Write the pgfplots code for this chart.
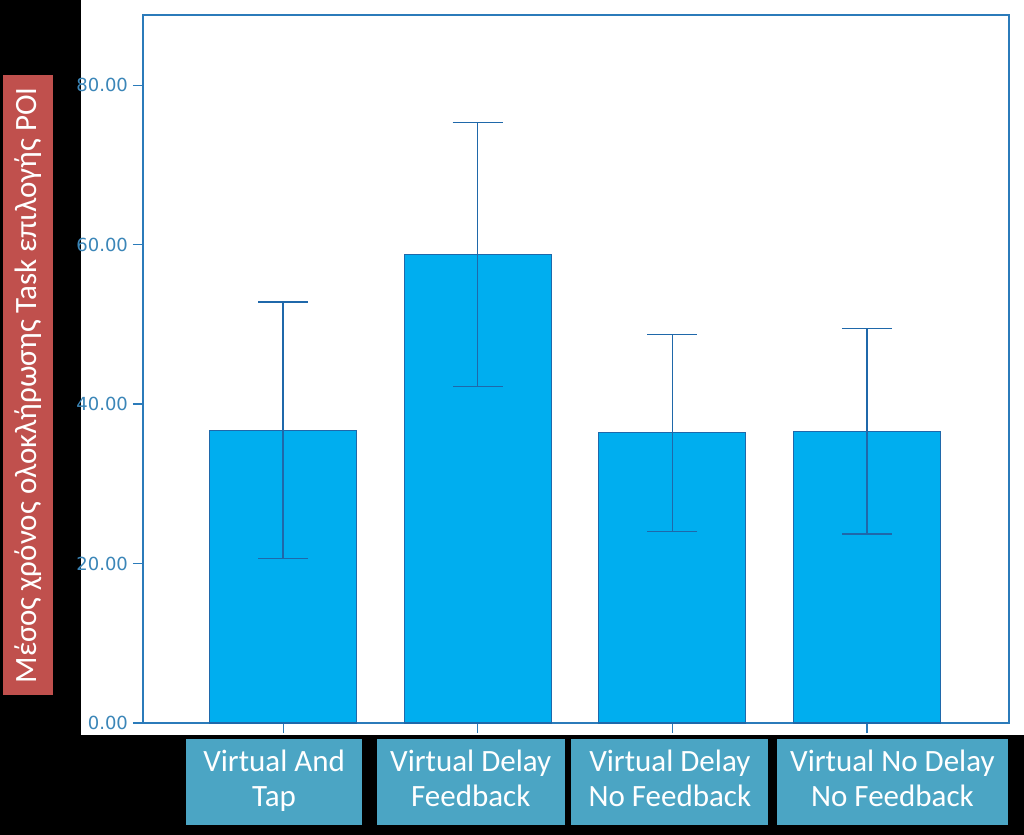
\documentclass[border=0pt]{standalone}
\usepackage{pgfplots}
\pgfplotsset{compat=1.18}
\usepackage{fontspec}
\setmainfont{Carlito}
\newfontfamily\tickfont{DejaVu Sans}
\definecolor{barfill}{RGB}{0,174,239}
\definecolor{bardark}{RGB}{31,104,170}
\definecolor{axblue}{RGB}{43,123,186}
\definecolor{ticktxt}{RGB}{59,134,184}
\definecolor{boxteal}{RGB}{75,165,196}
\definecolor{boxred}{RGB}{192,80,77}
\begin{document}
\begin{tikzpicture}
\path[use as bounding box, fill=black] (0,0) rectangle (512pt,-417.5pt);
\fill[white] (40.5pt,0) rectangle (512pt,-367.5pt);
\begin{axis}[
  at={(71.5pt,-361.5pt)}, anchor=south west,
  scale only axis, width=433pt, height=354pt,
  xmin=-0.72, xmax=3.73, ymin=0, ymax=88.8,
  axis line style={axblue, line width=0.8pt},
  tick style={axblue, line width=0.6pt},
  xtick=data,
  xticklabels={
    {\parbox{88pt}{\centering\strut Virtual And\strut\\\strut Tap\strut}},
    {\parbox{94pt}{\centering\strut Virtual Delay\strut\\\strut Feedback\strut}},
    {\parbox{98.5pt}{\centering\strut Virtual Delay\strut\\\strut No Feedback\strut}},
    {\parbox{115.5pt}{\centering\strut Virtual No Delay\strut\\\strut No Feedback\strut}}},
  xtick align=outside, ytick align=outside,
  major tick length=5pt,
  xtick pos=bottom, ytick pos=left,
  ytick={0,20,40,60,80},
  yticklabel style={xshift=1pt, /pgf/number format/.cd, fixed, fixed zerofill, precision=2, assume math mode=true},
  yticklabel={\tickfont\fontsize{9}{10}\selectfont\color{ticktxt}\pgfmathprintnumber{\tick}},
  xticklabel style={fill=boxteal, text=white, font=\fontsize{15.5}{17.5}\selectfont,
     minimum height=43pt, inner xsep=0pt, inner ysep=2pt, anchor=north, yshift=-3pt,
     xshift={{-4.5,-3.5,-1.25,12.75}[\ticknum]}},
  ylabel={Μέσος χρόνος ολοκλήρωσης Task επιλογής POI},
  every axis y label/.style={at={(rel axis cs:0,0.477)}, xshift=-57.5pt, rotate=90, anchor=center,
     fill=boxred, text=white, font=\fontsize{15.5}{17}\selectfont,
     minimum width=310pt, minimum height=25pt, inner sep=0pt},
  ybar, bar width=73.5pt,
]
\addplot[fill=barfill, draw=bardark, line width=0.6pt,
  error bars/.cd, y dir=both, y explicit,
  error bar style={bardark, line width=0.7pt},
  error mark options={rotate=90, mark size=12.5pt, bardark, line width=0.7pt}]
coordinates {
 (0,36.7) +- (0,16.1)
 (1,58.75) +- (0,16.55)
 (2,36.4) +- (0,12.35)
 (3,36.6) +- (0,12.9)
};
\end{axis}
\end{tikzpicture}
\end{document}
